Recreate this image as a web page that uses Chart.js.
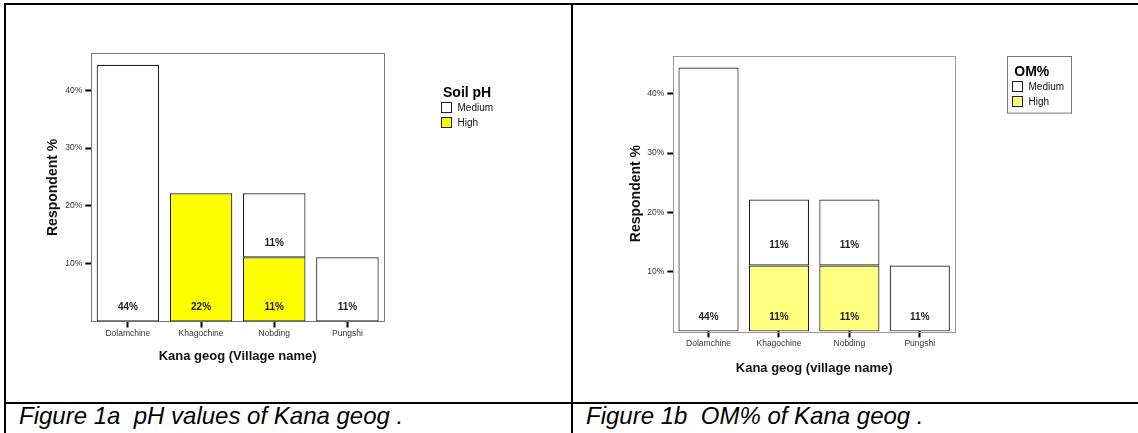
<!DOCTYPE html>
<html>
<head>
<title>Kana geog soil charts</title>
<script src="https://cdn.jsdelivr.net/npm/chart.js"></script>
<style>
  body { margin: 0; background: #fff; font-family: "Liberation Sans", Arial, sans-serif; }
  #page { position: relative; width: 1138px; height: 433px; overflow: hidden; }
  .line { position: absolute; background: #000; }
  .panel { position: absolute; top: 6px; height: 396px; }
  .caption { position: absolute; top: 404px; font-style: italic; font-size: 24px; line-height: 24px; white-space: pre; color: #000; }
</style>
</head>
<body>
<div id="page">
  <div class="line" style="left:4px;top:3px;width:1134px;height:2px"></div>
  <div class="line" style="left:4px;top:3px;width:2px;height:430px"></div>
  <div class="line" style="left:571px;top:3px;width:2px;height:430px"></div>
  <div class="line" style="left:4px;top:402px;width:1134px;height:2px"></div>
  <div class="panel" style="left:6px;width:564px"><canvas id="chartA" width="564" height="396"></canvas></div>
  <div class="panel" style="left:573px;width:565px"><canvas id="chartB" width="565" height="396"></canvas></div>
  <div class="caption" style="left:19px">Figure 1a  pH values of Kana geog .</div>
  <div class="caption" style="left:586px">Figure 1b  OM% of Kana geog .</div>
</div>
<script>
const villages = ['Dolamchine', 'Khagochine', 'Nobding', 'Pungshi'];
const yTicks = [10, 20, 30, 40];

// Figure 1a - soil pH, % of respondents
const phMedium = [44.4, null, 11.1, 11.1];
const phHigh = [null, 22.2, 11.1, null];

// Figure 1b - organic matter, % of respondents
const omMedium = [44.4, 11.1, 11.1, 11.1];
const omHigh = [null, 11.1, 11.1, null];

Chart.defaults.font.family = '"Liberation Sans", Arial, sans-serif';

// frame round the plot, % labels on the bars and the SPSS style legend
const spssDecor = {
  id: 'spssDecor',
  beforeDatasetsDraw(chart, args, opts) {
    const a = chart.chartArea, ctx = chart.ctx;
    ctx.save();
    ctx.strokeStyle = opts.frameColor;
    ctx.lineWidth = 1;
    ctx.strokeRect(Math.round(a.left) + 0.5, Math.round(a.top) + 0.5, Math.round(a.right - a.left), Math.round(a.bottom - a.top));
    ctx.restore();
  },
  afterDatasetsDraw(chart, args, opts) {
    const ctx = chart.ctx, a = chart.chartArea;
    ctx.save();
    ctx.font = 'bold 10px "Liberation Sans", Arial, sans-serif';
    ctx.fillStyle = '#222';
    ctx.textAlign = 'center';
    ctx.textBaseline = 'middle';
    const used = villages.map(() => false);
    chart.data.datasets.forEach((ds, di) => {
      chart.getDatasetMeta(di).data.forEach((bar, i) => {
        const v = ds.data[i];
        if (v == null) return;
        const off = used[i] ? opts.upperOffset : opts.baseOffset;
        ctx.fillText(Math.round(v) + '%', bar.x, bar.base - off);
        used[i] = true;
      });
    });

    // legend, Medium first like the original
    const lg = opts.legend;
    const x0 = a.right, y0 = a.top;
    if (lg.border) {
      ctx.strokeStyle = '#777';
      ctx.lineWidth = 1;
      ctx.strokeRect(Math.round(x0 + lg.border[0]) + 0.5, Math.round(y0 + lg.border[1]) + 0.5, lg.border[2], lg.border[3]);
    }
    ctx.textAlign = 'left';
    ctx.fillStyle = '#000';
    ctx.font = 'bold 14px "Liberation Sans", Arial, sans-serif';
    ctx.fillText(lg.title, x0 + lg.boxLeft + 2, y0 + lg.titleY);
    ctx.font = '10px "Liberation Sans", Arial, sans-serif';
    const items = chart.data.datasets.slice().reverse();
    items.forEach((ds, k) => {
      const bx = Math.round(x0 + lg.boxLeft) + 0.5;
      const by = Math.round(y0 + lg.firstTop + k * 15.5) + 0.5;
      ctx.fillStyle = ds.backgroundColor;
      ctx.fillRect(bx, by, 10, 10);
      ctx.strokeStyle = '#222';
      ctx.strokeRect(bx, by, 10, 10);
      ctx.fillStyle = '#111';
      ctx.fillText(ds.label, bx + 16, by + 5.5);
    });
    ctx.restore();
  }
};

function makeChart(id, cfg) {
  return new Chart(document.getElementById(id), {
    type: 'bar',
    data: {
      labels: villages,
      datasets: [
        { label: 'High', data: cfg.high, backgroundColor: cfg.highColor, borderColor: '#222', borderWidth: 1.2, borderSkipped: false, barPercentage: 0.854, categoryPercentage: 1 },
        { label: 'Medium', data: cfg.medium, backgroundColor: '#ffffff', borderColor: '#222', borderWidth: 1.2, borderSkipped: false, barPercentage: 0.854, categoryPercentage: 1 }
      ]
    },
    options: {
      responsive: false,
      animation: false,
      layout: { padding: cfg.padding },
      plugins: {
        legend: { display: false },
        tooltip: { enabled: false },
        spssDecor: { frameColor: cfg.frameColor, baseOffset: 14, upperOffset: cfg.upperOffset, legend: cfg.legend }
      },
      scales: {
        x: {
          stacked: true,
          grid: { offset: false, drawOnChartArea: false, tickLength: 6, tickWidth: 2, tickColor: '#000' },
          border: { display: false },
          ticks: { font: { size: 8.5 }, color: '#333', padding: 1, maxRotation: 0 },
          title: { display: true, text: cfg.xTitle, font: { size: 13, weight: 'bold' }, color: '#111' },
          afterFit(s) { s.height = cfg.xHeight; }
        },
        y: {
          stacked: true,
          min: 0,
          max: 46.4,
          afterBuildTicks(s) { s.ticks = yTicks.map(v => ({ value: v })); },
          grid: { drawOnChartArea: false, tickLength: 6, tickWidth: 2, tickColor: '#000' },
          border: { display: false },
          ticks: { font: { size: 8.5 }, color: '#333', padding: 3, callback: v => v + '%' },
          title: { display: true, text: 'Respondent %', font: { size: 14, weight: 'bold' }, color: '#111' },
          afterFit(s) { s.width = cfg.yWidth; }
        }
      }
    },
    plugins: [spssDecor]
  });
}

makeChart('chartA', {
  medium: phMedium, high: phHigh, highColor: '#ffff00',
  xTitle: 'Kana geog (Village name)',
  padding: { left: 34.3, top: 47.3, right: 186, bottom: 33.5 },
  xHeight: 47, yWidth: 51, frameColor: '#777', upperOffset: 14,
  legend: { title: 'Soil pH', boxLeft: 57, titleY: 40, firstTop: 48.4, border: null }
});

makeChart('chartB', {
  medium: omMedium, high: omHigh, highColor: '#ffff80',
  xTitle: 'Kana geog (village name)',
  padding: { left: 51.1, top: 49.7, right: 183, bottom: 22.2 },
  xHeight: 48.4, yWidth: 49.2, frameColor: '#999', upperOffset: 20,
  legend: { title: 'OM%', boxLeft: 57.3, titleY: 16, firstTop: 25, border: [51.7, 0, 64, 56.6] }
});
</script>
</body>
</html>
